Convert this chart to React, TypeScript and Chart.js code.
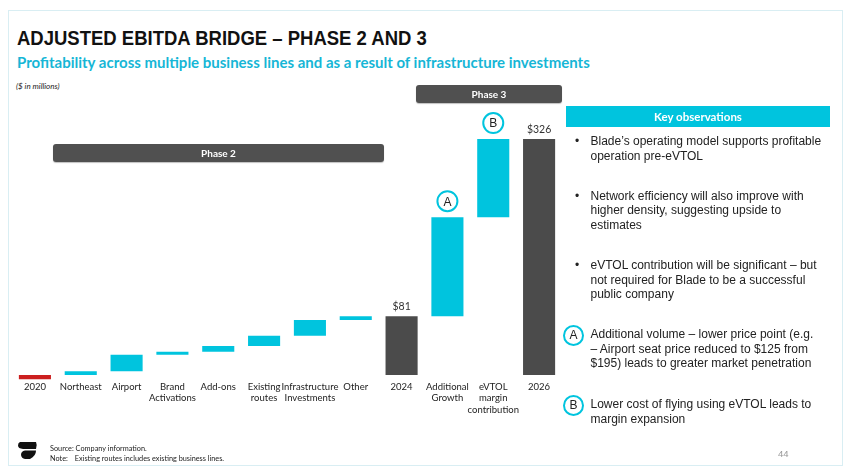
import React, { useEffect, useRef } from "react";
import { Chart, registerables } from "chart.js";

Chart.register(...registerables);

// ---------- DATA ----------
const categories: (string | string[])[] = [
  "2020",
  "Northeast",
  "Airport",
  ["Brand", "Activations"],
  "Add-ons",
  ["Existing", "routes"],
  ["Infrastructure", "Investments"],
  "Other",
  "2024",
  ["Additional", "Growth"],
  ["eVTOL", "margin", "contribution"],
  "2026",
];
// floating bar start / end values ($ in millions)
const barStart = [0, 0, 5, 28, 32, 40, 54, 76, 0, 81, 218, 0];
const barEnd = [-6, 5, 28, 32, 40, 54, 76, 81, 81, 218, 326, 326];
const barKind = [
  "base", "delta", "delta", "delta", "delta", "delta", "delta", "delta",
  "total", "delta", "delta", "total",
];
const valueLabels = ["", "", "", "", "", "", "", "", "$81", "", "", "$326"];
const markerLetters = ["", "", "", "", "", "", "", "", "", "A", "B", ""];

const bullets: string[][] = [
  ["Blade\u2019s operating model supports profitable", "operation pre-eVTOL"],
  ["Network efficiency will also improve with", "higher density, suggesting upside to", "estimates"],
  ["eVTOL contribution will be significant \u2013 but", "not required for Blade to be a successful", "public company"],
];
const markerNotes: { letter: string; lines: string[] }[] = [
  {
    letter: "A",
    lines: [
      "Additional volume \u2013 lower price point (e.g.",
      "\u2013 Airport seat price reduced to $125 from",
      "$195) leads to greater market penetration",
    ],
  },
  { letter: "B", lines: ["Lower cost of flying using eVTOL leads to", "margin expansion"] },
];

// ---------- STYLE ----------
const CYAN = "#00C4DE";
const DARK = "#4B4B4B";
const RED = "#CC1F1F";
const colorFor = (k: string) => (k === "base" ? RED : k === "total" ? DARK : CYAN);

const annotPlugin = {
  id: "annot",
  afterDatasetsDraw(chart: any) {
    const ctx = chart.ctx;
    const xs = chart.scales.x;
    const ys = chart.scales.y;
    ctx.save();
    categories.forEach((_, i) => {
      const x = xs.getPixelForValue(i);
      const top = ys.getPixelForValue(Math.max(barStart[i], barEnd[i]));
      if (valueLabels[i]) {
        ctx.font = "10.5px Lato";
        ctx.fillStyle = "#333";
        ctx.textAlign = "center";
        ctx.textBaseline = "bottom";
        ctx.fillText(valueLabels[i], x, top - 4);
      }
      if (markerLetters[i]) {
        const cy = top - 16;
        ctx.beginPath();
        ctx.arc(x, cy, 10, 0, Math.PI * 2);
        ctx.fillStyle = "#fff";
        ctx.fill();
        ctx.lineWidth = 2;
        ctx.strokeStyle = CYAN;
        ctx.stroke();
        ctx.font = '12px "Liberation Sans"';
        ctx.fillStyle = "#222";
        ctx.textAlign = "center";
        ctx.textBaseline = "middle";
        ctx.fillText(markerLetters[i], x, cy + 1);
      }
    });
    ctx.restore();
  },
};

function BridgeChart() {
  const ref = useRef<HTMLCanvasElement | null>(null);
  useEffect(() => {
    if (!ref.current) return;
    const chart = new Chart(ref.current, {
      type: "bar",
      data: {
        labels: categories as any,
        datasets: [
          {
            data: barStart.map((s, i) => [s, barEnd[i]]) as any,
            backgroundColor: barKind.map(colorFor),
            borderWidth: 0,
            barPercentage: 0.7,
            categoryPercentage: 1,
          },
        ],
      },
      options: {
        animation: false,
        responsive: false,
        devicePixelRatio: 1,
        layout: { padding: { left: 12, right: 288, top: 100, bottom: 46 } },
        plugins: { legend: { display: false }, tooltip: { enabled: false } },
        scales: {
          x: {
            grid: { display: false, drawTicks: false },
            border: { display: false },
            ticks: {
              autoSkip: false,
              maxRotation: 0,
              minRotation: 0,
              padding: 1,
              color: "#222",
              font: { family: "Lato", size: 9.5, lineHeight: 1.2 },
            },
            afterFit: (s: any) => {
              s.height = 50;
            },
          },
          y: { display: false, min: -7, max: 380 },
        },
      },
      plugins: [annotPlugin],
    });
    return () => chart.destroy();
  }, []);
  return (
    <canvas
      ref={ref}
      width={850}
      height={476}
      style={{ position: "absolute", left: 0, top: 0, width: 850, height: 476 }}
    />
  );
}

const abs = (o: React.CSSProperties): React.CSSProperties => ({ position: "absolute", ...o });

function Logo() {
  return (
    <svg style={abs({ left: 17, top: 441, width: 21, height: 19 })} viewBox="0 0 21 19">
      <path d="M3 1 L19 1 Q20.5 4 19 8 L6 8 Q1 7.5 1 4.5 Q1 1.5 3 1 Z" fill="#111" />
      <path d="M19 9.5 L8 9.5 Q4 10 4 14 Q4.5 17.5 8 18 L13 18 Q19 15 19 9.5 Z" fill="#111" />
    </svg>
  );
}

export default function App() {
  const body = '"Liberation Sans", Arial, sans-serif';
  const cal = 'Lato, "Open Sans", sans-serif';
  return (
    <div
      style={{
        position: "fixed",
        left: 0,
        top: 0,
        width: 850,
        height: 476,
        background: "#fff",
        overflow: "hidden",
        fontFamily: body,
      }}
    >
      {/* slide frame */}
      <div style={abs({ left: 8, top: 10, width: 833, height: 454, border: "1.5px solid #D9EEF3" })} />
      <div
        style={abs({
          left: 17,
          top: 28,
          fontSize: 20,
          lineHeight: "20px",
          fontWeight: 700,
          color: "#111",
          whiteSpace: "nowrap",
          transform: "scaleX(0.925)",
          transformOrigin: "0 0",
        })}
      >
        ADJUSTED EBITDA BRIDGE – PHASE 2 AND 3
      </div>
      <div
        style={abs({
          left: 17,
          top: 54,
          fontFamily: cal,
          fontSize: 15,
          lineHeight: "16px",
          fontWeight: 700,
          color: "#16B6D6",
          whiteSpace: "nowrap",
        })}
      >
        Profitability across multiple business lines and as a result of infrastructure investments
      </div>
      <div
        style={abs({ left: 16, top: 81, fontFamily: cal, fontSize: 8, fontStyle: "italic", color: "#222" })}
      >
        ($ in millions)
      </div>

      <BridgeChart />

      {/* phase banners */}
      <div
        style={abs({
          left: 53,
          top: 144,
          width: 331,
          height: 18,
          background: "#505050",
          borderRadius: 3,
          boxShadow: "0 1px 1px rgba(0,0,0,0.25)",
          color: "#fff",
          fontFamily: cal,
          fontWeight: 700,
          fontSize: 10,
          lineHeight: "18px",
          textAlign: "center",
        })}
      >
        Phase 2
      </div>
      <div
        style={abs({
          left: 416,
          top: 85,
          width: 146,
          height: 18,
          background: "#505050",
          borderRadius: 3,
          boxShadow: "0 1px 1px rgba(0,0,0,0.25)",
          color: "#fff",
          fontFamily: cal,
          fontWeight: 700,
          fontSize: 10,
          lineHeight: "18px",
          textAlign: "center",
        })}
      >
        Phase 3
      </div>

      {/* key observations */}
      <div
        style={abs({
          left: 566,
          top: 106,
          width: 264,
          height: 21,
          background: CYAN,
          color: "#fff",
          fontFamily: cal,
          fontWeight: 700,
          fontSize: 11.5,
          lineHeight: "21px",
          textAlign: "center",
        })}
      >
        Key observations
      </div>
      {bullets.map((lines, i) => {
        const tops = [141.7, 196, 265.3];
        return (
          <div key={i}>
            <div style={abs({ left: 575, top: tops[i] - 7.25, fontSize: 12, lineHeight: "14.5px", color: "#222" })}>
              •
            </div>
            <div
              style={abs({
                left: 590.5,
                top: tops[i] - 7.25,
                fontSize: 12,
                lineHeight: "14.5px",
                color: "#222",
                whiteSpace: "nowrap",
              })}
            >
              {lines.map((l, j) => (
                <div key={j}>{l}</div>
              ))}
            </div>
          </div>
        );
      })}
      {markerNotes.map((m, i) => {
        const tops = [334.3, 404.3];
        return (
          <div key={m.letter}>
            <div
              style={abs({
                left: 563,
                top: tops[i] - 9.5,
                width: 17,
                height: 17,
                border: `2px solid ${CYAN}`,
                borderRadius: "50%",
                fontSize: 12,
                lineHeight: "17px",
                textAlign: "center",
                color: "#222",
              })}
            >
              {m.letter}
            </div>
            <div
              style={abs({
                left: 590.5,
                top: tops[i] - 7.25,
                fontSize: 12,
                lineHeight: "14.5px",
                color: "#222",
                whiteSpace: "nowrap",
              })}
            >
              {m.lines.map((l, j) => (
                <div key={j}>{l}</div>
              ))}
            </div>
          </div>
        );
      })}
      <div style={abs({ left: 778, top: 448, fontSize: 9.5, color: "#999" })}>44</div>

      {/* footer */}
      <Logo />
      <div style={abs({ left: 50, top: 444, fontFamily: cal, fontSize: 7.3, lineHeight: "10px", color: "#222" })}>
        <div>Source: Company information.</div>
        <div>
          Note:<span style={{ display: "inline-block", width: 7 }} />Existing routes includes existing business lines.
        </div>
      </div>
    </div>
  );
}
